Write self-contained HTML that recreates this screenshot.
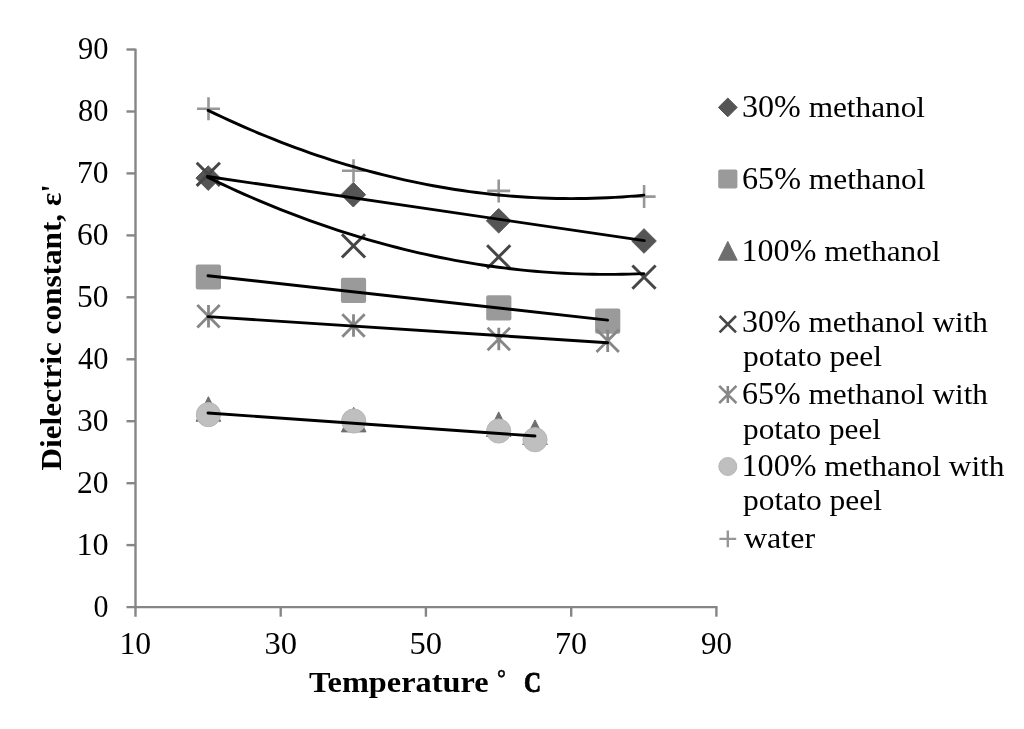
<!DOCTYPE html><html><head><meta charset="utf-8"><style>html,body{margin:0;padding:0;background:#fff;width:1024px;height:729px;overflow:hidden}svg{display:block;filter:grayscale(1)}text{font-family:"Liberation Serif",serif}</style></head><body>
<svg width="1024" height="729" viewBox="0 0 1024 729">
<rect width="1024" height="729" fill="#fff"/>
<g stroke="#868686" stroke-width="2.4" fill="none" stroke-linecap="butt">
<path d="M135.5 48.7V616.7"/>
<path d="M126.5 607.1H717.5"/>
<path d="M126.5 545.1H135.5"/>
<path d="M126.5 483.2H135.5"/>
<path d="M126.5 421.2H135.5"/>
<path d="M126.5 359.3H135.5"/>
<path d="M126.5 297.3H135.5"/>
<path d="M126.5 235.4H135.5"/>
<path d="M126.5 173.4H135.5"/>
<path d="M126.5 111.5H135.5"/>
<path d="M126.5 49.5H135.5"/>
<path d="M280.7 607.1V616.7"/>
<path d="M425.9 607.1V616.7"/>
<path d="M571.2 607.1V616.7"/>
<path d="M716.4 607.1V616.7"/>
</g>
<g fill="#000">
<text x="742.00" y="117.0" font-weight="normal" textLength="183.01" lengthAdjust="spacingAndGlyphs"><tspan font-size="31.2">30%</tspan><tspan font-size="30.4"> methanol</tspan></text>
<text x="742.00" y="188.8" font-weight="normal" textLength="183.51" lengthAdjust="spacingAndGlyphs"><tspan font-size="31.2">65%</tspan><tspan font-size="30.4"> methanol</tspan></text>
<text x="741.50" y="260.6" font-weight="normal" textLength="199.02" lengthAdjust="spacingAndGlyphs"><tspan font-size="31.2">100%</tspan><tspan font-size="30.4"> methanol</tspan></text>
<text x="742.00" y="332.4" font-weight="normal" textLength="246.00" lengthAdjust="spacingAndGlyphs"><tspan font-size="31.2">30%</tspan><tspan font-size="30.4"> methanol with</tspan></text>
<text x="743.00" y="366.4" font-weight="normal" textLength="139.03" lengthAdjust="spacingAndGlyphs"><tspan font-size="30.4">potato peel</tspan></text>
<text x="742.00" y="403.9" font-weight="normal" textLength="246.00" lengthAdjust="spacingAndGlyphs"><tspan font-size="31.2">65%</tspan><tspan font-size="30.4"> methanol with</tspan></text>
<text x="743.00" y="438.6" font-weight="normal" textLength="137.99" lengthAdjust="spacingAndGlyphs"><tspan font-size="30.4">potato peel</tspan></text>
<text x="741.50" y="475.8" font-weight="normal" textLength="263.01" lengthAdjust="spacingAndGlyphs"><tspan font-size="31.2">100%</tspan><tspan font-size="30.4"> methanol with</tspan></text>
<text x="743.00" y="510.1" font-weight="normal" textLength="139.03" lengthAdjust="spacingAndGlyphs"><tspan font-size="30.4">potato peel</tspan></text>
<text x="744.00" y="547.7" font-weight="normal" textLength="71.04" lengthAdjust="spacingAndGlyphs"><tspan font-size="30.4">water</tspan></text>
<text x="309.00" y="692.3" font-weight="bold" textLength="179.50" lengthAdjust="spacingAndGlyphs"><tspan font-size="30.4">Temperature</tspan></text>
<text x="497.00" y="686.3" stroke="#000" stroke-width="0.5" font-weight="bold" textLength="8.90" lengthAdjust="spacingAndGlyphs"><tspan font-size="25">°</tspan></text>
<text x="524.00" y="692.1" stroke="#000" stroke-width="0.9" font-weight="bold" textLength="17.08" lengthAdjust="spacingAndGlyphs"><tspan font-size="30.2">C</tspan></text>
<text x="119.50" y="653.8" font-weight="normal" textLength="31.67" lengthAdjust="spacingAndGlyphs"><tspan font-size="32.0">10</tspan></text>
<text x="264.50" y="653.8" font-weight="normal" textLength="32.56" lengthAdjust="spacingAndGlyphs"><tspan font-size="32.0">30</tspan></text>
<text x="409.50" y="653.8" font-weight="normal" textLength="32.57" lengthAdjust="spacingAndGlyphs"><tspan font-size="32.0">50</tspan></text>
<text x="555.00" y="653.8" font-weight="normal" textLength="32.12" lengthAdjust="spacingAndGlyphs"><tspan font-size="32.0">70</tspan></text>
<text x="701.00" y="653.8" font-weight="normal" textLength="30.99" lengthAdjust="spacingAndGlyphs"><tspan font-size="32.0">90</tspan></text>
<text x="93.50" y="616.9" font-weight="normal" textLength="15.00" lengthAdjust="spacingAndGlyphs"><tspan font-size="32.0">0</tspan></text>
<text x="76.50" y="554.9" font-weight="normal" textLength="32.19" lengthAdjust="spacingAndGlyphs"><tspan font-size="32.0">10</tspan></text>
<text x="77.00" y="493.0" font-weight="normal" textLength="31.52" lengthAdjust="spacingAndGlyphs"><tspan font-size="32.0">20</tspan></text>
<text x="77.00" y="431.0" font-weight="normal" textLength="31.52" lengthAdjust="spacingAndGlyphs"><tspan font-size="32.0">30</tspan></text>
<text x="78.00" y="369.1" font-weight="normal" textLength="30.47" lengthAdjust="spacingAndGlyphs"><tspan font-size="32.0">40</tspan></text>
<text x="77.00" y="307.1" font-weight="normal" textLength="31.52" lengthAdjust="spacingAndGlyphs"><tspan font-size="32.0">50</tspan></text>
<text x="77.00" y="245.2" font-weight="normal" textLength="31.52" lengthAdjust="spacingAndGlyphs"><tspan font-size="32.0">60</tspan></text>
<text x="77.00" y="183.2" font-weight="normal" textLength="31.52" lengthAdjust="spacingAndGlyphs"><tspan font-size="32.0">70</tspan></text>
<text x="78.00" y="121.3" font-weight="normal" textLength="30.47" lengthAdjust="spacingAndGlyphs"><tspan font-size="32.0">80</tspan></text>
<text x="78.00" y="59.3" font-weight="normal" textLength="30.47" lengthAdjust="spacingAndGlyphs"><tspan font-size="32.0">90</tspan></text>
<text transform="translate(61.2 470.50) rotate(-90)" font-weight="bold" textLength="286.52" lengthAdjust="spacingAndGlyphs"><tspan font-size="30.4">Dielectric constant, ε'</tspan></text>
</g>
<path d="M208.2 165.8L220.5 178.1L208.2 190.4L195.9 178.1Z" fill="#555555" stroke="#555555" stroke-width="1" stroke-linejoin="round"/>
<path d="M353.3 182.4L365.6 194.7L353.3 207.0L341.0 194.7Z" fill="#555555" stroke="#555555" stroke-width="1" stroke-linejoin="round"/>
<path d="M498.7 208.5L511.0 220.8L498.7 233.1L486.4 220.8Z" fill="#555555" stroke="#555555" stroke-width="1" stroke-linejoin="round"/>
<path d="M644.0 228.7L656.3 241.0L644.0 253.3L631.7 241.0Z" fill="#555555" stroke="#555555" stroke-width="1" stroke-linejoin="round"/>
<rect x="195.8" y="264.4" width="25.2" height="25.2" rx="2" fill="#9a9a9a"/>
<rect x="340.9" y="277.7" width="25.2" height="25.2" rx="2" fill="#9a9a9a"/>
<rect x="486.2" y="295.3" width="25.2" height="25.2" rx="2" fill="#9a9a9a"/>
<rect x="595.1" y="308.5" width="25.2" height="25.2" rx="2" fill="#9a9a9a"/>
<path d="M208.4 396.7L220.7 421.3L196.1 421.3Z" fill="#6e6e6e" stroke="#6e6e6e" stroke-width="1" stroke-linejoin="round"/>
<path d="M353.7 407.3L366.0 431.9L341.4 431.9Z" fill="#6e6e6e" stroke="#6e6e6e" stroke-width="1" stroke-linejoin="round"/>
<path d="M498.7 411.9L511.0 436.5L486.4 436.5Z" fill="#6e6e6e" stroke="#6e6e6e" stroke-width="1" stroke-linejoin="round"/>
<path d="M535.0 419.9L547.3 444.5L522.7 444.5Z" fill="#6e6e6e" stroke="#6e6e6e" stroke-width="1" stroke-linejoin="round"/>
<path d="M196.7 162.7L219.9 185.9M219.9 162.7L196.7 185.9" stroke="#464646" stroke-width="3" fill="none"/>
<path d="M341.9 234.3L365.1 257.5M365.1 234.3L341.9 257.5" stroke="#464646" stroke-width="3" fill="none"/>
<path d="M487.1 245.3L510.3 268.5M510.3 245.3L487.1 268.5" stroke="#464646" stroke-width="3" fill="none"/>
<path d="M632.4 265.5L655.6 288.7M655.6 265.5L632.4 288.7" stroke="#464646" stroke-width="3" fill="none"/>
<path d="M197.3 305.0L219.7 327.4M219.7 305.0L197.3 327.4M208.5 305.0V327.4" stroke="#878787" stroke-width="2.8" fill="none"/>
<path d="M342.3 314.3L364.7 336.7M364.7 314.3L342.3 336.7M353.5 314.3V336.7" stroke="#878787" stroke-width="2.8" fill="none"/>
<path d="M487.6 327.8L510.0 350.2M510.0 327.8L487.6 350.2M498.8 327.8V350.2" stroke="#878787" stroke-width="2.8" fill="none"/>
<path d="M596.5 329.6L618.9 352.0M618.9 329.6L596.5 352.0M607.7 329.6V352.0" stroke="#878787" stroke-width="2.8" fill="none"/>
<circle cx="208.4" cy="414.6" r="12.1" fill="#bfbfbf" stroke="#b6b6b6" stroke-width="1"/>
<circle cx="353.7" cy="421.0" r="12.1" fill="#bfbfbf" stroke="#b6b6b6" stroke-width="1"/>
<circle cx="498.7" cy="431.0" r="12.1" fill="#bfbfbf" stroke="#b6b6b6" stroke-width="1"/>
<circle cx="535.0" cy="439.7" r="12.1" fill="#bfbfbf" stroke="#b6b6b6" stroke-width="1"/>
<path d="M197.0 108.8H220.0M208.5 97.3V120.3" stroke="#979797" stroke-width="2.6" fill="none"/>
<path d="M342.0 170.7H365.0M353.5 159.2V182.2" stroke="#979797" stroke-width="2.6" fill="none"/>
<path d="M487.2 190.9H510.2M498.7 179.4V202.4" stroke="#979797" stroke-width="2.6" fill="none"/>
<path d="M632.6 196.6H655.6M644.1 185.1V208.1" stroke="#979797" stroke-width="2.6" fill="none"/>
<g stroke="#000" stroke-width="2.9" fill="none" stroke-linecap="round" stroke-linejoin="round">
<path d="M208.11 110.38 L215.37 113.87 L222.63 117.28 L229.90 120.62 L237.16 123.89 L244.42 127.10 L251.68 130.23 L258.94 133.29 L266.20 136.28 L273.46 139.21 L280.73 142.06 L287.99 144.84 L295.25 147.55 L302.51 150.19 L309.77 152.76 L317.03 155.26 L324.29 157.69 L331.55 160.05 L338.81 162.34 L346.08 164.56 L353.34 166.71 L360.60 168.79 L367.86 170.80 L375.12 172.74 L382.38 174.61 L389.64 176.41 L396.90 178.14 L404.17 179.80 L411.43 181.39 L418.69 182.91 L425.95 184.35 L433.21 185.73 L440.47 187.04 L447.73 188.28 L455.00 189.45 L462.26 190.54 L469.52 191.57 L476.78 192.53 L484.04 193.41 L491.30 194.23 L498.56 194.98 L505.82 195.65 L513.09 196.26 L520.35 196.80 L527.61 197.26 L534.87 197.66 L542.13 197.98 L549.39 198.24 L556.65 198.43 L563.91 198.54 L571.17 198.59 L578.44 198.56 L585.70 198.46 L592.96 198.30 L600.22 198.06 L607.48 197.76 L614.74 197.38 L622.00 196.94 L629.26 196.42 L636.53 195.83 L643.79 195.18"/>
<path d="M208.11 177.49 L215.37 180.99 L222.63 184.42 L229.90 187.79 L237.16 191.09 L244.42 194.33 L251.68 197.50 L258.94 200.61 L266.20 203.66 L273.46 206.64 L280.73 209.56 L287.99 212.41 L295.25 215.20 L302.51 217.93 L309.77 220.59 L317.03 223.19 L324.29 225.72 L331.55 228.19 L338.81 230.59 L346.08 232.93 L353.34 235.21 L360.60 237.42 L367.86 239.57 L375.12 241.65 L382.38 243.67 L389.64 245.63 L396.90 247.52 L404.17 249.34 L411.43 251.11 L418.69 252.80 L425.95 254.44 L433.21 256.01 L440.47 257.51 L447.73 258.95 L455.00 260.33 L462.26 261.64 L469.52 262.89 L476.78 264.08 L484.04 265.20 L491.30 266.25 L498.56 267.25 L505.82 268.17 L513.09 269.04 L520.35 269.84 L527.61 270.57 L534.87 271.24 L542.13 271.85 L549.39 272.39 L556.65 272.87 L563.91 273.28 L571.17 273.63 L578.44 273.92 L585.70 274.14 L592.96 274.30 L600.22 274.39 L607.48 274.42 L614.74 274.39 L622.00 274.29 L629.26 274.12 L636.53 273.89 L643.79 273.60"/>
<path d="M207.5 176.5L644.3 240.6"/>
<path d="M208 275.7L607.6 320.1"/>
<path d="M208 316.6L607.6 342.7"/>
<path d="M208 413L535 436"/>
</g>
<path d="M727.8 98.0L737.2 107.4L727.8 116.8L718.4 107.4Z" fill="#555555" stroke="#555555" stroke-width="1" stroke-linejoin="round"/>
<rect x="718.2" y="169.4" width="19.2" height="19.2" rx="2" fill="#9a9a9a"/>
<path d="M727.8 241.4L737.2 260.2L718.4 260.2Z" fill="#6e6e6e" stroke="#6e6e6e" stroke-width="1" stroke-linejoin="round"/>
<path d="M719.6 316.0L736.0 332.4M736.0 316.0L719.6 332.4" stroke="#464646" stroke-width="2.6" fill="none"/>
<path d="M719.2 385.9L736.4 403.1M736.4 385.9L719.2 403.1M727.8 385.9V403.1" stroke="#878787" stroke-width="2.6" fill="none"/>
<circle cx="727.8" cy="466.5" r="9.0" fill="#bfbfbf" stroke="#b6b6b6" stroke-width="1"/>
<path d="M719.4 538.9H736.2M727.8 530.5V547.3" stroke="#979797" stroke-width="2.4" fill="none"/>
</svg></body></html>
